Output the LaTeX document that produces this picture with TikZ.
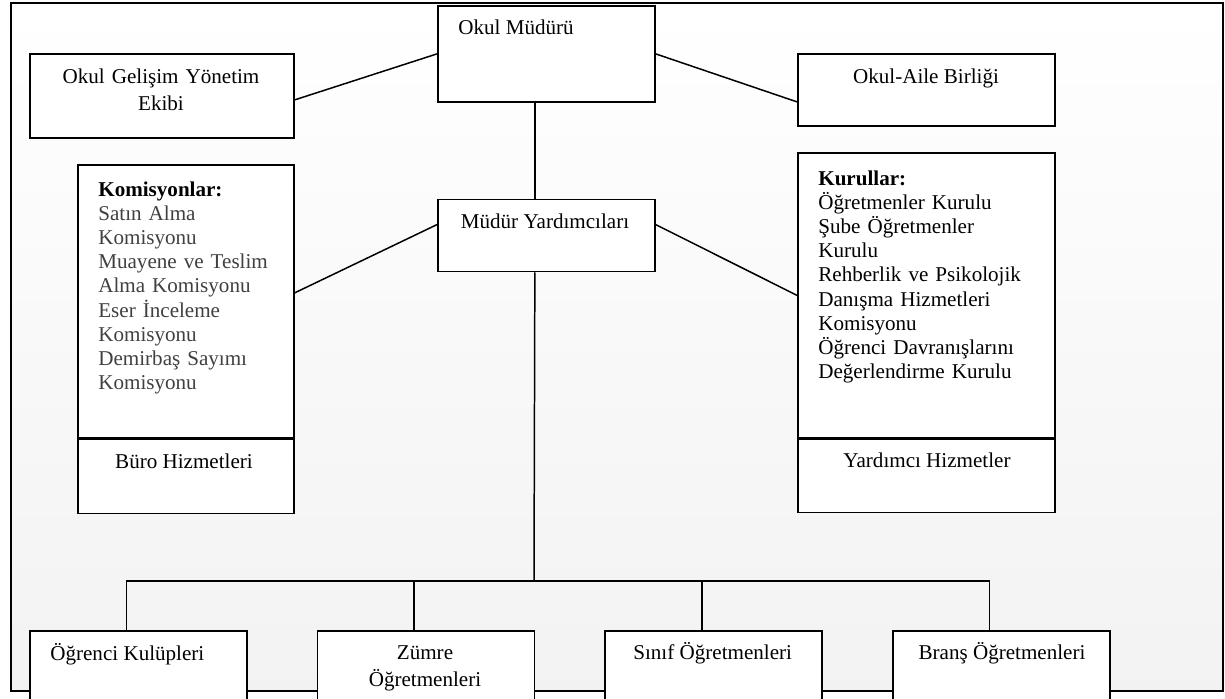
\documentclass[tikz,border=0pt]{standalone}
\usepackage{fontspec}
\setmainfont{Liberation Serif}
\usetikzlibrary{positioning}

\begin{document}
\begin{tikzpicture}[
    x=0.02cm, y=-0.02cm,
    frame/.style={
        draw=black,
        line width=1.5pt
    },
    box/.style={
        rectangle,
        draw=black,
        line width=1pt,
        fill=white,
        anchor=north west,
        inner sep=0pt,
        minimum width=4.34cm
    },
    txt/.style={
        inner sep=0pt,
        font=\fontsize{12}{15.6}\selectfont
    },
    list/.style={
        inner sep=0pt,
        text width=4.3cm,
        align=left,
        anchor=base west,
        font=\fontsize{12}{13.8}\selectfont
    },
    link/.style={
        draw=black,
        line width=0.85pt
    }
]

\useasboundingbox (0,0) rectangle (1225,698);
\clip (0,0) rectangle (1225,698);
\fill[white] (0,0) rectangle (1225,698);

% Frame
\shade[top color=white, bottom color=black!5] (11,3) rectangle (1223,691);
\draw[frame] (11,3) rectangle (1223,691);

% Top level
\node[box, minimum height=1.92cm] (mudur) at (437,5) {};
\node[box, minimum width=5.28cm, minimum height=1.68cm] (gelisim) at (29,53) {};
\node[box, minimum width=5.14cm, minimum height=1.44cm] (aile) at (797,53) {};
\node[box, below=1.92cm of mudur, minimum height=1.44cm] (myard) {};

% Commissions and boards
\node[box, minimum width=4.32cm, minimum height=5.46cm] (kom) at (77,164) {};
\node[box, below=0pt of kom, minimum width=4.32cm, minimum height=1.48cm] (buro) {};
\node[box, minimum width=5.14cm, minimum height=5.70cm] (kur) at (797,152) {};
\node[box, below=0pt of kur, minimum width=5.14cm, minimum height=1.46cm] (yard) {};

% Bottom row
\node[box, minimum height=1.8cm] (ogr) at (29,630) {};
\node[box, minimum height=1.8cm, right=1.38cm of ogr] (zum) {};
\node[box, minimum height=1.8cm, right=1.38cm of zum] (sinif) {};
\node[box, minimum height=1.8cm, right=1.38cm of sinif] (brans) {};

% Texts
\node[txt, anchor=base west] (mudurtxt) at (458,34) {Okul Müdürü};
\node[txt, anchor=base, text width=5cm, align=center] (gelisimtxt) at (161,83) {Okul Gelişim Yönetim\\Ekibi};
\node[txt, anchor=base] (ailetxt) at (926,83) {Okul-Aile Birliği};
\node[txt, anchor=base] (myardtxt) at (545,228) {Müdür Yardımcıları};
\node[list] (komtxt) at (98,196) {\textbf{Komisyonlar:}\\
    \color{black!75}Satın Alma\\Komisyonu\\Muayene ve Teslim\\Alma Komisyonu\\Eser İnceleme\\Komisyonu\\Demirbaş Sayımı\\Komisyonu};
\node[txt, anchor=base] (burotxt) at (184,468) {Büro Hizmetleri};
\node[list] (kurtxt) at (818,185) {\textbf{Kurullar:}\\
    Öğretmenler Kurulu\\Şube Öğretmenler\\Kurulu\\Rehberlik ve Psikolojik\\Danışma Hizmetleri\\Komisyonu\\Öğrenci Davranışlarını\\Değerlendirme Kurulu};
\node[txt, anchor=base] (yardtxt) at (927,467) {Yardımcı Hizmetler};
\node[txt, anchor=base west] (ogrtxt) at (50,660) {Öğrenci Kulüpleri};
\node[txt, anchor=base, text width=4cm, align=center] (zumtxt) at (425,659) {Zümre\\Öğretmenleri};
\node[txt, anchor=base west] (siniftxt) at (633,659) {Sınıf Öğretmenleri};
\node[txt, anchor=base] (branstxt) at (1002,659) {Branş Öğretmenleri};

% Connectors
\coordinate (hub) at (534,581);
\draw[link] ([yshift=-0.08cm]gelisim.east) -- (mudur.west);
\draw[link] (mudur.east) -- ([yshift=-0.24cm]aile.west);
\draw[link] ([xshift=-0.23cm]mudur.south) -- ([xshift=-0.23cm]myard.north);
\draw[link] ([yshift=0.22cm]myard.west) -- ([yshift=0.17cm]kom.east);
\draw[link] ([yshift=0.22cm]myard.east) -- (kur.west);
\draw[link] ([xshift=-0.23cm]myard.south) -- (hub);
\draw[link] ([xshift=-0.24cm]ogr.north) |- (hub) -| ([xshift=-0.24cm]brans.north);
\draw[link] ([xshift=-0.24cm]zum.north) -- ([xshift=-0.24cm]zum.north |- hub);
\draw[link] ([xshift=-0.24cm]sinif.north) -- ([xshift=-0.24cm]sinif.north |- hub);

\end{tikzpicture}
\end{document}
